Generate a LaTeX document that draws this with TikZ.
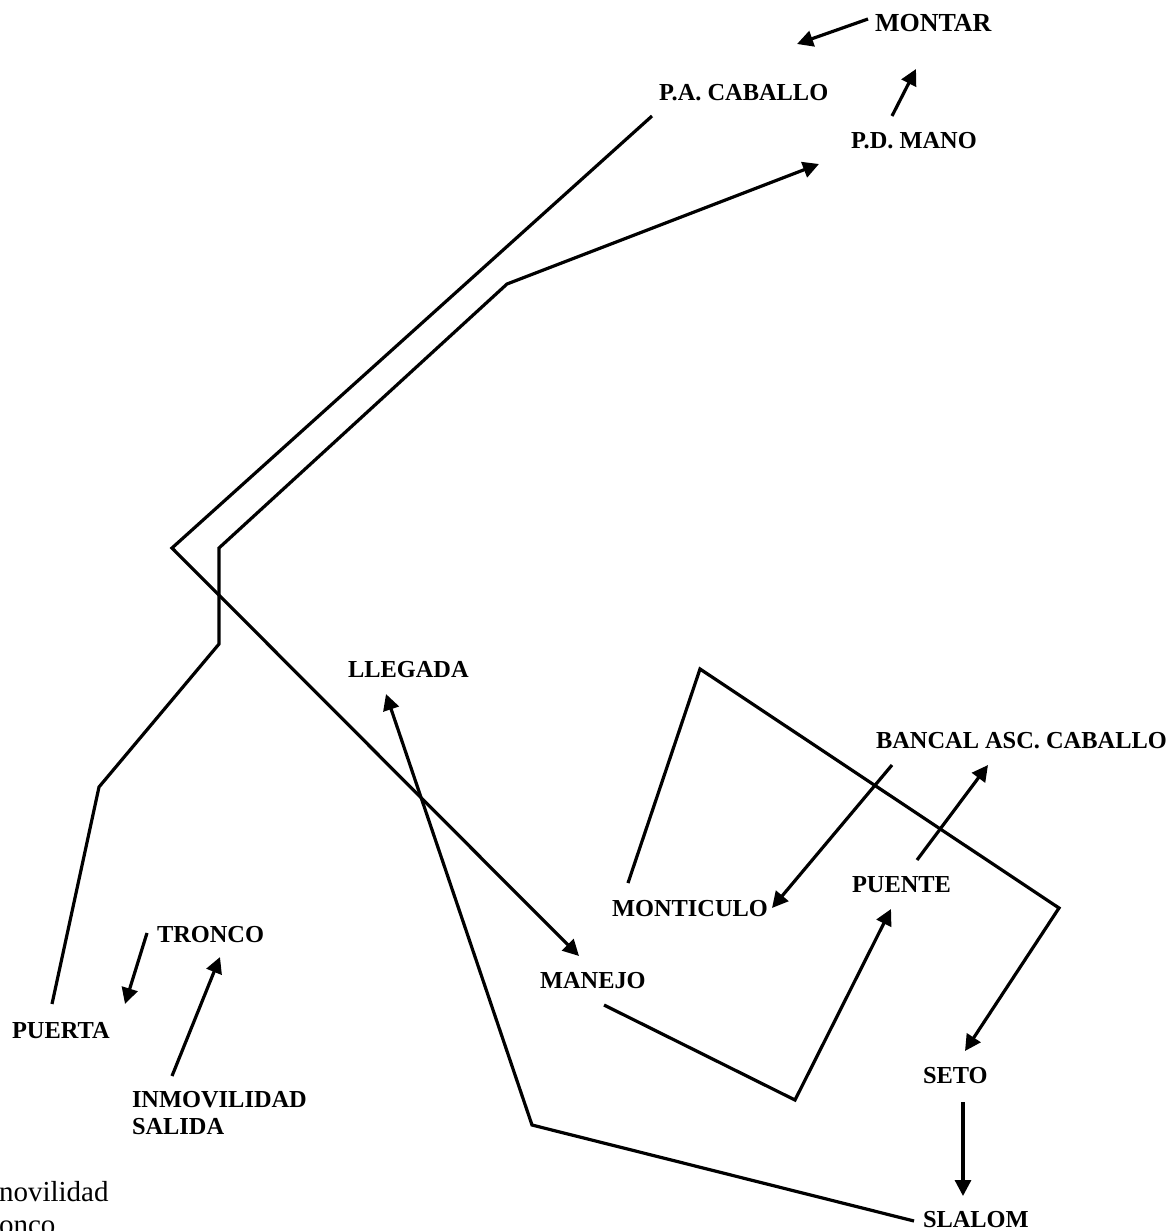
\documentclass[tikz,border=0pt]{standalone}
\usepackage{fontspec}
\setmainfont{Liberation Serif}
\usetikzlibrary{arrows.meta}
\begin{document}
\begin{tikzpicture}[x=0.5pt,y=-0.5pt,
  lbl/.style={anchor=base west, inner sep=0pt, outer sep=0pt, font=\fontsize{12.2}{14}\selectfont\bfseries},
  plain/.style={anchor=base west, inner sep=0pt, outer sep=0pt, font=\fontsize{14.5}{17}\selectfont},
  route/.style={line width=1.6pt, line join=miter},
  arr/.style={route, -{Triangle[length=8pt,width=8pt]}}]
\useasboundingbox (0,0) rectangle (1171,1231);

% labels
\node[lbl, font=\fontsize{13}{15}\selectfont\bfseries] (montar) at (875,32) {MONTAR};
\node[lbl] (pacab) at (659,100) {P.A. CABALLO};
\node[lbl] (pdmano) at (851,148) {P.D. MANO};
\node[lbl] (llegada) at (348,677) {LLEGADA};
\node[lbl] (bancal) at (876,748) {BANCAL ASC. CABALLO};
\node[lbl] (puente) at (852,892) {PUENTE};
\node[lbl] (monticulo) at (612,916) {MONTICULO};
\node[lbl] (tronco) at (157,942) {TRONCO};
\node[lbl] (manejo) at (540,988) {MANEJO};
\node[lbl] (puerta) at (12,1038) {PUERTA};
\node[lbl] (seto) at (923,1083) {SETO};
\node[lbl] (inmo) at (132,1107) {INMOVILIDAD};
\node[lbl] (salida) at (132,1134) {SALIDA};
\node[lbl] (slalom) at (923,1227) {SLALOM};
\node[plain] (novil) at (-1,1201) {novilidad};
\node[plain] (onco) at (-1,1234) {onco};

% coordinates
\coordinate (a1) at (652,116);
\coordinate (a2) at (172,548);
\coordinate (a3) at (579,956);

\coordinate (b1) at (52,1004);
\coordinate (b2) at (99,787);
\coordinate (b3) at (219,644);
\coordinate (b4) at (219,548);
\coordinate (b5) at (507,284);
\coordinate (b6) at (819,164);

\coordinate (m1) at (868,19);
\coordinate (m2) at (797,44);
\coordinate (p1) at (892,116);
\coordinate (p2) at (916,69);

\coordinate (c1) at (604,1005);
\coordinate (c2) at (795,1100);
\coordinate (c3) at (891,909);

\coordinate (d1) at (628,883);
\coordinate (d2) at (700,669);
\coordinate (d3) at (1059,908);
\coordinate (d4) at (965,1051);

\coordinate (e1) at (892,765);
\coordinate (e2) at (772,908);
\coordinate (f1) at (917,860);
\coordinate (f2) at (988,765);

\coordinate (g1) at (963,1102);
\coordinate (g2) at (963,1196);

\coordinate (h1) at (914,1221);
\coordinate (h2) at (532,1125);
\coordinate (h3) at (386,694);

\coordinate (t1) at (147,933);
\coordinate (t2) at (125,1004);
\coordinate (i1) at (172,1076);
\coordinate (i2) at (220,957);

% connectors
\draw[arr] (a1) -- (a2) -- (a3);
\draw[arr] (b1) -- (b2) -- (b3) -- (b4) -- (b5) -- (b6);
\draw[arr] (m1) -- (m2);
\draw[arr] (p1) -- (p2);
\draw[arr] (c1) -- (c2) -- (c3);
\draw[arr] (d1) -- (d2) -- (d3) -- (d4);
\draw[arr] (e1) -- (e2);
\draw[arr] (f1) -- (f2);
\draw[arr] (g1) -- (g2);
\draw[arr] (h1) -- (h2) -- (h3);
\draw[arr] (t1) -- (t2);
\draw[arr] (i1) -- (i2);
\end{tikzpicture}
\end{document}
